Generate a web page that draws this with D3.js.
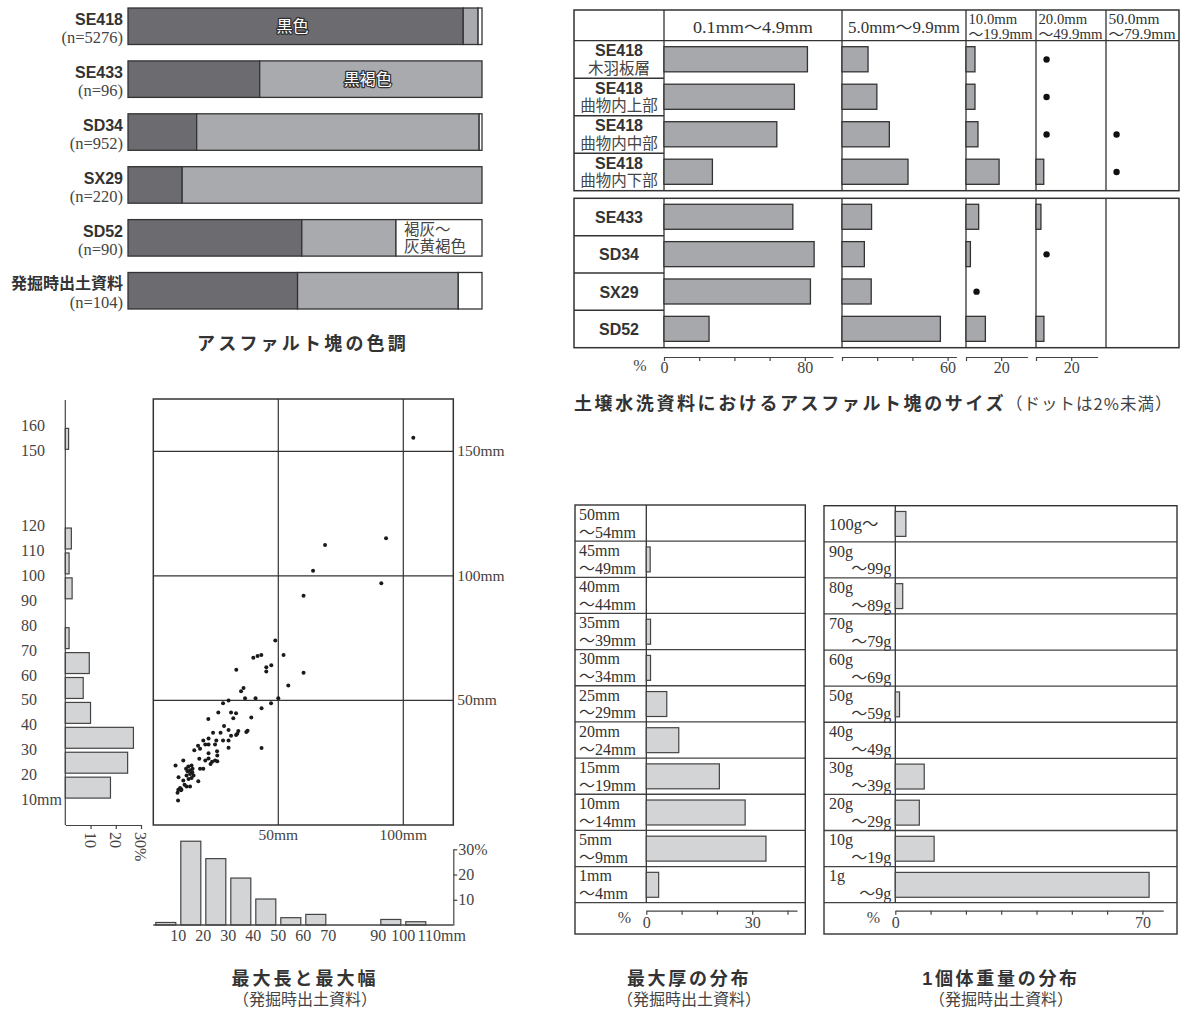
<!DOCTYPE html>
<html>
<head>
<meta charset="utf-8">
<script src="https://cdn.jsdelivr.net/npm/d3@7/dist/d3.min.js"></script>
<style>
body { margin: 0; background: #fff; }
svg { display: block; }
</style>
</head>
<body>
<svg id="figure" width="1194" height="1012"></svg>
<script>
// アスファルト塊の色調 (%)
var color_sites = ["SE418", "SE433", "SD34", "SX29", "SD52", "発掘時出土資料"];
var color_counts = [5276, 96, 952, 220, 90, 104];
var black_pct = [94.7, 37.2, 19.4, 15.3, 49.1, 47.9];
var brown_pct = [4.2, 62.8, 79.8, 84.7, 26.6, 45.4];
var gray_pct = [1.1, 0, 0.8, 0, 24.3, 6.7];
var color_names = [["SE418", "black", ["黒色"]], ["SE433", "brown", ["黒褐色"]], ["SD52", "gray", ["褐灰～", "灰黄褐色"]]];

// 土壌水洗資料のサイズ (%), DOT = 2%未満
var DOT = "dot";
var size_classes = [["0.1mm～4.9mm"], ["5.0mm～9.9mm"], ["10.0mm", "～19.9mm"], ["20.0mm", "～49.9mm"], ["50.0mm", "～79.9mm"]];
var size_samples = [["SE418", "木羽板層"], ["SE418", "曲物内上部"], ["SE418", "曲物内中部"], ["SE418", "曲物内下部"], ["SE433"], ["SD34"], ["SX29"], ["SD52"]];
var size_01 = [81.5, 74.1, 64.1, 27.5, 73.2, 85.3, 83.2, 25.6];
var size_05 = [14.8, 19.8, 26.9, 37.5, 16.8, 12.7, 16.6, 55.9];
var size_10 = [5.1, 5.1, 6.8, 18.8, 7.2, 2.5, DOT, 11.0];
var size_20 = [DOT, DOT, DOT, 4.4, 2.8, DOT, 0, 4.5];
var size_50 = [0, 0, DOT, DOT, 0, 0, 0, 0];
var size_axis_max = [96, 65, 35, 35];
var size_axis_labels = [[0, 80], [60], [20], [20]];

// 最大長と最大幅 (mm)
var point_x = [104, 93.1, 68.7, 63.9, 91.2, 60.1, 48.8, 52.1, 40, 41.7,
    43.2, 47.2, 45.2, 45.2, 33.2, 60.1, 54, 35.1, 36.1, 36.7,
    40.9, 50, 30.1, 27.9, 47.1, 43.3, 26, 31.1, 33.1, 32,
    39.2, 22, 28.3, 30.1, 23.9, 26.9, 34, 33.6, 33.1, 31.1,
    37.2, 37.7, 25.2, 27.9, 30.1, 20, 22.1, 20.8, 22.1, 17.9,
    16.4, 18.7, 24.7, 25.5, 22.1, 30.1, 43.3, 18.4, 20.8, 22.1,
    23.5, 24.7, 25.6, 20, 18.7, 18, 15.3, 15.7, 12, 8.9,
    13.7, 14.7, 15.6, 13.3, 14.1, 10.1, 12, 15.3, 16.1, 13.3,
    14.7, 10.7, 10, 11.2, 9.7, 9.9, 14, 13.1, 25.6, 22.9,
    14.7, 11.1, 12.5];
var point_y = [155.4, 115.1, 112.4, 102.1, 97, 92, 74.1, 68.2, 67.1, 67.8,
    68.2, 64.1, 63.3, 61.6, 62.3, 61.1, 56, 53.7, 55, 50.9,
    50.9, 50.9, 50, 48.9, 48.9, 46.9, 45.2, 45.2, 44.9, 42.9,
    43.2, 42.5, 39.7, 38.1, 37, 37, 37.7, 36.6, 36.1, 35.8,
    37.3, 37.8, 33.9, 33.9, 33.9, 33.9, 34.7, 32.3, 32.3, 31.8,
    30, 30.6, 32.3, 29.6, 28.8, 31, 30.9, 26.6, 25.9, 26.7,
    25.4, 25.9, 25.6, 22.6, 22.6, 17.6, 23.9, 22.6, 25.9, 23.9,
    21.6, 20.5, 21.2, 19.9, 18.5, 19.2, 17.9, 18.9, 19.9, 15.5,
    15.5, 14.9, 14.1, 14.4, 12.9, 9.8, 23.5, 22.6, 27.9, 24.5,
    22, 13.9, 16.2];
var left_bins = [10, 20, 30, 40, 50, 60, 70, 90, 100, 110, 150];
var left_pct = [17.9, 24.7, 27.0, 10.0, 7.1, 9.5, 1.5, 2.7, 1.5, 2.4, 1.3];
var left_ticks = [10, 20, 30, 40, 50, 60, 70, 80, 90, 100, 110, 120, 150, 160];
var bottom_bins = [0, 10, 20, 30, 40, 50, 60, 90, 100];
var bottom_pct = [1.0, 33.2, 26.3, 18.6, 10.3, 2.9, 4.2, 2.2, 1.3];
var bottom_ticks = [10, 20, 30, 40, 50, 60, 70, 90, 100, 110];

// 最大厚の分布 (%)
var thick_classes = [["50mm", "～54mm"], ["45mm", "～49mm"], ["40mm", "～44mm"], ["35mm", "～39mm"], ["30mm", "～34mm"], ["25mm", "～29mm"], ["20mm", "～24mm"], ["15mm", "～19mm"], ["10mm", "～14mm"], ["5mm", "～9mm"], ["1mm", "～4mm"]];
var thick_pct = [0, 1.1, 0, 1.2, 1.2, 5.8, 9.2, 20.7, 28.0, 33.9, 3.5];

// 1個体重量の分布 (%)
var weight_classes = [["100g～"], ["90g", "～99g"], ["80g", "～89g"], ["70g", "～79g"], ["60g", "～69g"], ["50g", "～59g"], ["40g", "～49g"], ["30g", "～39g"], ["20g", "～29g"], ["10g", "～19g"], ["1g", "～9g"]];
var weight_pct = [3.0, 0, 2.1, 0, 0, 1.2, 0, 8.2, 6.8, 11.0, 71.9];

var SANS = '"Noto Sans CJK JP", "Noto Sans", sans-serif';
var GOTHIC = '"Liberation Sans", "Noto Sans CJK JP", sans-serif';
var SERIF = '"Liberation Serif", "Noto Sans CJK JP", serif';
var INK = "#333";
var svg = d3.select("#figure");

function put_text(g, x, y, str, size, family, anchor)
{
    return g.append("text").attr("x", x).attr("y", y)
        .attr("text-anchor", anchor || "start")
        .style("font-family", family).style("font-size", size + "px")
        .attr("fill", INK).text(str);
}

function style_axis(a)
{
    a.attr("font-family", SERIF).attr("font-size", 16);
    a.select(".domain").attr("stroke", "#444").attr("stroke-width", 1.2);
    a.selectAll(".tick line").attr("stroke", "#444").attr("stroke-width", 1.2);
    a.selectAll(".tick text").attr("fill", "#444");
}

// title + (発掘時出土資料) under a panel
function put_caption(g, x, title, spacing)
{
    put_text(g, x, 984.5, title, 18, GOTHIC, "middle").style("font-weight", "bold").style("letter-spacing", spacing + "px");
    put_text(g, x, 1005, "（発掘時出土資料）", 16, SERIF, "middle").attr("fill", "#444");
}

// ---------- 色調 ----------
var g1 = svg.append("g");
var color_rows = color_sites.map(function(site, i)
{
    return {site: site, n: color_counts[i], black: black_pct[i], brown: brown_pct[i], gray: gray_pct[i]};
});
var color_x = d3.scaleLinear().domain([0, 100]).range([128, 482]);
var color_y = d3.scaleBand().domain(color_sites).range([8, 309]).paddingInner(0.31);
var color_fill = {black: "#6b6b70", brown: "#a9aaad", gray: "#ffffff"};
var layers = d3.stack().keys(["black", "brown", "gray"])(color_rows);
g1.selectAll("g.layer").data(layers).enter().append("g").attr("class", "layer")
    .attr("fill", function(d) { return color_fill[d.key]; })
    .selectAll("rect").data(function(d) { return d; }).enter().append("rect")
    .attr("x", function(d) { return color_x(d[0]); })
    .attr("y", function(d) { return color_y(d.data.site); })
    .attr("width", function(d) { return color_x(d[1]) - color_x(d[0]); })
    .attr("height", color_y.bandwidth())
    .attr("stroke", INK).attr("stroke-width", 1.3);

color_rows.forEach(function(row)
{
    var y0 = color_y(row.site);
    put_text(g1, 123, y0 + 17, row.site, 16, GOTHIC, "end").style("font-weight", "bold");
    put_text(g1, 123, y0 + 35.2, "(n=" + row.n + ")", 16.5, SERIF, "end").attr("fill", "#444");
});

color_names.forEach(function(item)
{
    var layer = layers.filter(function(l) { return l.key == item[1]; })[0];
    var seg = layer[color_sites.indexOf(item[0])];
    var y0 = color_y(item[0]);
    if (item[2].length == 1)
    {
        put_text(g1, (color_x(seg[0]) + color_x(seg[1])) / 2 - 3, y0 + color_y.bandwidth() / 2 + 6, item[2][0], 16, SANS, "middle")
            .attr("fill", "#fff").attr("stroke", "#333").attr("stroke-width", 2.6)
            .attr("paint-order", "stroke").attr("stroke-linejoin", "round");
    }
    else
    {
        item[2].forEach(function(line, k)
        {
            put_text(g1, color_x(seg[0]) + 8, y0 + 15 + k * 17.3, line, 15.5, SERIF, "start").attr("fill", "#444");
        });
    }
});
put_text(g1, 303, 350, "アスファルト塊の色調", 18, SANS, "middle")
    .style("font-weight", "bold").style("letter-spacing", "3.2px");

// ---------- サイズ ----------
var g2 = svg.append("g");
var col_edges = [574, 664, 842, 966, 1036, 1106, 1179];
var size_cols = [size_01, size_05, size_10, size_20, size_50];
var PX_PER_PCT = 1.76;
var size_x = size_cols.map(function(col, c)
{
    var x0 = col_edges[c + 1];
    return d3.scaleLinear().domain([0, 20]).range([x0, x0 + 20 * PX_PER_PCT]);
});
var blocks = [{rows: [0, 1, 2, 3], top: 10, y0: 40.7, y1: 190.7}, {rows: [4, 5, 6, 7], top: 198.3, y0: 198.3, y1: 347.7}];

blocks.forEach(function(block)
{
    var by = d3.scaleBand().domain(block.rows).range([block.y0, block.y1]);
    var bw = by.bandwidth();
    // column lines
    g2.selectAll(null).data(col_edges.slice(1, 6)).enter().append("line")
        .attr("x1", function(d) { return d; }).attr("x2", function(d) { return d; })
        .attr("y1", block.top).attr("y2", block.y1)
        .attr("stroke", INK).attr("stroke-width", 1.3);
    // row lines in the label column
    g2.selectAll(null).data(block.rows.slice(1)).enter().append("line")
        .attr("x1", col_edges[0]).attr("x2", col_edges[1])
        .attr("y1", function(d) { return by(d); }).attr("y2", function(d) { return by(d); })
        .attr("stroke", INK).attr("stroke-width", 1.5);
    g2.append("rect").attr("x", col_edges[0]).attr("y", block.top)
        .attr("width", col_edges[6] - col_edges[0]).attr("height", block.y1 - block.top)
        .attr("fill", "none").attr("stroke", INK).attr("stroke-width", 1.5);

    block.rows.forEach(function(i)
    {
        var lab = size_samples[i];
        var cxl = (col_edges[0] + col_edges[1]) / 2;
        if (lab.length == 2)
        {
            put_text(g2, cxl, by(i) + 15.5, lab[0], 16, GOTHIC, "middle").style("font-weight", "bold");
            put_text(g2, cxl, by(i) + 33, lab[1], 15.5, SERIF, "middle").attr("fill", "#444");
        }
        else
        {
            put_text(g2, cxl, by(i) + bw / 2 + 6, lab[0], 16, GOTHIC, "middle").style("font-weight", "bold");
        }
    });

    size_cols.forEach(function(col, c)
    {
        var sc = size_x[c];
        var vals = block.rows.map(function(i) { return {i: i, v: col[i]}; });
        g2.selectAll(null).data(vals.filter(function(d) { return d.v !== DOT && d.v > 0; }))
            .enter().append("rect")
            .attr("x", sc(0)).attr("y", function(d) { return by(d.i) + bw * 0.16; })
            .attr("width", function(d) { return sc(d.v) - sc(0); }).attr("height", bw * 0.67)
            .attr("fill", "#a7a8ab").attr("stroke", INK).attr("stroke-width", 1.3);
        g2.selectAll(null).data(vals.filter(function(d) { return d.v === DOT; }))
            .enter().append("circle")
            .attr("cx", sc(6)).attr("cy", function(d) { return by(d.i) + bw / 2; })
            .attr("r", 3.2).attr("fill", "#111");
    });
});
g2.append("line").attr("x1", col_edges[0]).attr("x2", col_edges[6])
    .attr("y1", 40.7).attr("y2", 40.7).attr("stroke", INK).attr("stroke-width", 1.3);

size_classes.forEach(function(lines, c)
{
    var x0 = col_edges[c + 1], x1 = col_edges[c + 2], w = x1 - x0;
    if (lines.length == 1)
    {
        put_text(g2, (x0 + x1) / 2, 33, lines[0], 16, SERIF, "middle")
            .attr("textLength", Math.min(120, w - 12)).attr("lengthAdjust", "spacingAndGlyphs");
    }
    else
    {
        put_text(g2, x0 + 2.5, 23.6, lines[0], 14, SERIF, "start")
            .attr("textLength", (w - 6) * 0.76).attr("lengthAdjust", "spacingAndGlyphs");
        put_text(g2, x0 + 2.5, 39.3, lines[1], 14, SERIF, "start")
            .attr("textLength", w - 6).attr("lengthAdjust", "spacingAndGlyphs");
    }
});

size_axis_max.forEach(function(m, c)
{
    var sc = size_x[c].copy().domain([0, m]).range([size_x[c](0), size_x[c](m)]);
    var ax = d3.axisBottom(sc).tickValues(d3.range(0, m, 20)).tickSize(4).tickSizeOuter(0).tickPadding(1)
        .tickFormat(function(v) { return size_axis_labels[c].indexOf(v) >= 0 ? v : ""; });
    var a = g2.append("g").attr("transform", "translate(0,357)").call(ax);
    style_axis(a);
});
put_text(g2, 640, 371, "%", 16, SERIF, "middle").attr("fill", "#444");
var t2 = put_text(g2, 574, 410, "土壌水洗資料におけるアスファルト塊のサイズ", 18, SANS, "start")
    .style("font-weight", "bold").style("letter-spacing", "2.6px");
t2.append("tspan").style("font-weight", "normal").style("font-size", "16.5px")
    .style("letter-spacing", "1px").attr("fill", "#444").text("（ドットは2%未満）");

// ---------- 最大長と最大幅 ----------
var g3 = svg.append("g");
var sx = d3.scaleLinear().domain([0, 120]).range([153.3, 453.3]);
var sy = d3.scaleLinear().domain([0, 171]).range([825, 399]);

g3.selectAll(null).data([50, 100]).enter().append("line")
    .attr("x1", sx).attr("x2", sx).attr("y1", sy(0)).attr("y2", sy(171))
    .attr("stroke", INK).attr("stroke-width", 1.2);
g3.selectAll(null).data([50, 100, 150]).enter().append("line")
    .attr("x1", sx(0)).attr("x2", sx(120)).attr("y1", sy).attr("y2", sy)
    .attr("stroke", INK).attr("stroke-width", 1.2);
g3.append("rect").attr("x", sx(0)).attr("y", sy(171))
    .attr("width", sx(120) - sx(0)).attr("height", sy(0) - sy(171))
    .attr("fill", "none").attr("stroke", INK).attr("stroke-width", 1.5);
g3.selectAll(null).data(d3.range(point_x.length)).enter().append("circle")
    .attr("cx", function(i) { return sx(point_x[i]); })
    .attr("cy", function(i) { return sy(point_y[i]); })
    .attr("r", 2).attr("fill", "#1a1a1a");
[50, 100, 150].forEach(function(v)
{
    put_text(g3, sx(120) + 4, sy(v) + 5, v + "mm", 15.5, SERIF, "start").attr("fill", "#444");
});
[50, 100].forEach(function(v)
{
    put_text(g3, sx(v), 840, v + "mm", 15.5, SERIF, "middle").attr("fill", "#444");
});

// left marginal histogram
var hx = d3.scaleLinear().domain([0, 30]).range([65.3, 141]);
g3.selectAll(null).data(d3.range(left_bins.length)).enter().append("rect")
    .attr("x", hx(0))
    .attr("y", function(i) { return sy(left_bins[i] + 9.2); })
    .attr("width", function(i) { return hx(left_pct[i]) - hx(0); })
    .attr("height", function(i) { return sy(left_bins[i] + 0.8) - sy(left_bins[i] + 9.2); })
    .attr("fill", "#d3d4d6").attr("stroke", "#444").attr("stroke-width", 1.2);
g3.append("line").attr("x1", hx(0)).attr("x2", hx(0)).attr("y1", sy(0)).attr("y2", sy(170.6))
    .attr("stroke", "#444").attr("stroke-width", 1.2);
var lax = g3.append("g").attr("transform", "translate(0," + sy(0) + ")")
    .call(d3.axisBottom(hx).tickValues([10, 20, 30]).tickSize(4).tickSizeOuter(0).tickFormat(""));
style_axis(lax);
[10, 20, 30].forEach(function(v)
{
    g3.append("text").attr("transform", "translate(" + hx(v) + "," + (sy(0) + 7) + ") rotate(90)")
        .attr("dy", "0.35em").style("font-family", SERIF).style("font-size", "16px")
        .attr("fill", "#444").text(v == 30 ? "30%" : v);
});
left_ticks.forEach(function(v)
{
    put_text(g3, 21, sy(v) + 5, v == 10 ? "10mm" : v, 16, SERIF, "start").attr("fill", "#444");
});

// bottom marginal histogram
var hy = d3.scaleLinear().domain([0, 30]).range([925, 849.3]);
g3.selectAll(null).data(d3.range(bottom_bins.length)).enter().append("rect")
    .attr("x", function(i) { return sx(bottom_bins[i] + 1); })
    .attr("y", function(i) { return hy(bottom_pct[i]); })
    .attr("width", function(i) { return sx(bottom_bins[i] + 9) - sx(bottom_bins[i] + 1); })
    .attr("height", function(i) { return hy(0) - hy(bottom_pct[i]); })
    .attr("fill", "#d3d4d6").attr("stroke", "#444").attr("stroke-width", 1.2);
g3.append("line").attr("x1", sx(0)).attr("x2", sx(120)).attr("y1", hy(0)).attr("y2", hy(0))
    .attr("stroke", "#444").attr("stroke-width", 1.3);
var rax = g3.append("g").attr("transform", "translate(" + sx(120) + ",0)")
    .call(d3.axisRight(hy).tickValues([10, 20, 30]).tickSize(4).tickSizeOuter(0).tickPadding(1)
        .tickFormat(function(v) { return v == 30 ? "30%" : v; }));
style_axis(rax);
bottom_ticks.forEach(function(v, k)
{
    var t = put_text(g3, sx(v), 941, v, 16, SERIF, "middle").attr("fill", "#444");
    if (k == bottom_ticks.length - 1)
    {
        var w = t.node().getComputedTextLength();
        t.attr("x", sx(v) - w / 2 + 1).attr("text-anchor", "start");
        t.append("tspan").text("mm");
    }
});
put_caption(g3, 305, "最大長と最大幅", 3);

// ---------- 最大厚 / 重量 ----------
function draw_distribution(box, classes, pct, axis_max, tick_labels, indent_second)
{
    var g = svg.append("g");
    var ry = d3.scaleBand().domain(d3.range(classes.length)).range([box.top, box.rows_bottom]);
    var bw = ry.bandwidth();
    var px = d3.scaleLinear().domain([0, 10]).range([box.split, box.split + 35.3]);

    g.selectAll(null).data(d3.range(classes.length)).enter().append("line")
        .attr("x1", box.x0).attr("x2", box.x1)
        .attr("y1", function(i) { return ry(i) + bw; }).attr("y2", function(i) { return ry(i) + bw; })
        .attr("stroke", "#444").attr("stroke-width", 1.3);
    g.append("line").attr("x1", box.split).attr("x2", box.split)
        .attr("y1", box.top).attr("y2", box.rows_bottom).attr("stroke", INK).attr("stroke-width", 1.3);
    g.append("rect").attr("x", box.x0).attr("y", box.top)
        .attr("width", box.x1 - box.x0).attr("height", box.bottom - box.top)
        .attr("fill", "none").attr("stroke", INK).attr("stroke-width", 1.4);

    g.selectAll(null).data(d3.range(classes.length).filter(function(i) { return pct[i] > 0; }))
        .enter().append("rect")
        .attr("x", px(0)).attr("y", function(i) { return ry(i) + bw * 0.16; })
        .attr("width", function(i) { return px(pct[i]) - px(0); }).attr("height", bw * 0.69)
        .attr("fill", "#d3d4d6").attr("stroke", "#444").attr("stroke-width", 1.2);

    classes.forEach(function(lines, i)
    {
        if (lines.length == 1)
        {
            put_text(g, box.x0 + 5, ry(i) + bw / 2 + 6, lines[0], 16.5, SERIF, "start");
        }
        else if (indent_second)
        {
            put_text(g, box.x0 + 5, ry(i) + 14.8, lines[0], 16, SERIF, "start");
            put_text(g, box.split - 4, ry(i) + 32.7, lines[1], 16, SERIF, "end");
        }
        else
        {
            put_text(g, box.x0 + 4, ry(i) + 14.8, lines[0], 16, SERIF, "start");
            put_text(g, box.x0 + 4, ry(i) + 32.7, lines[1], 16, SERIF, "start");
        }
    });

    var sc = px.copy().domain([0, axis_max]).range([px(0), px(axis_max)]);
    var a = g.append("g").attr("transform", "translate(0,910.7)")
        .call(d3.axisBottom(sc).tickValues(d3.range(0, axis_max, 10)).tickSize(4).tickSizeOuter(0).tickPadding(2)
            .tickFormat(function(v) { return tick_labels.indexOf(v) >= 0 ? v : ""; }));
    style_axis(a);
    put_text(g, box.split - 22, 923, "%", 16, SERIF, "middle").attr("fill", "#444");

    put_caption(g, box.title_x, box.title, 2.7);
}

draw_distribution({x0: 575, x1: 805.3, split: 646.3, top: 505, rows_bottom: 902.7, bottom: 934, title: "最大厚の分布", title_x: 689},
    thick_classes, thick_pct, 42.7, [0, 30], false);
draw_distribution({x0: 824, x1: 1177, split: 895.3, top: 505.7, rows_bottom: 902.7, bottom: 934, title: "1個体重量の分布", title_x: 1001},
    weight_classes, weight_pct, 75.9, [0, 70], true);
</script>
</body>
</html>
